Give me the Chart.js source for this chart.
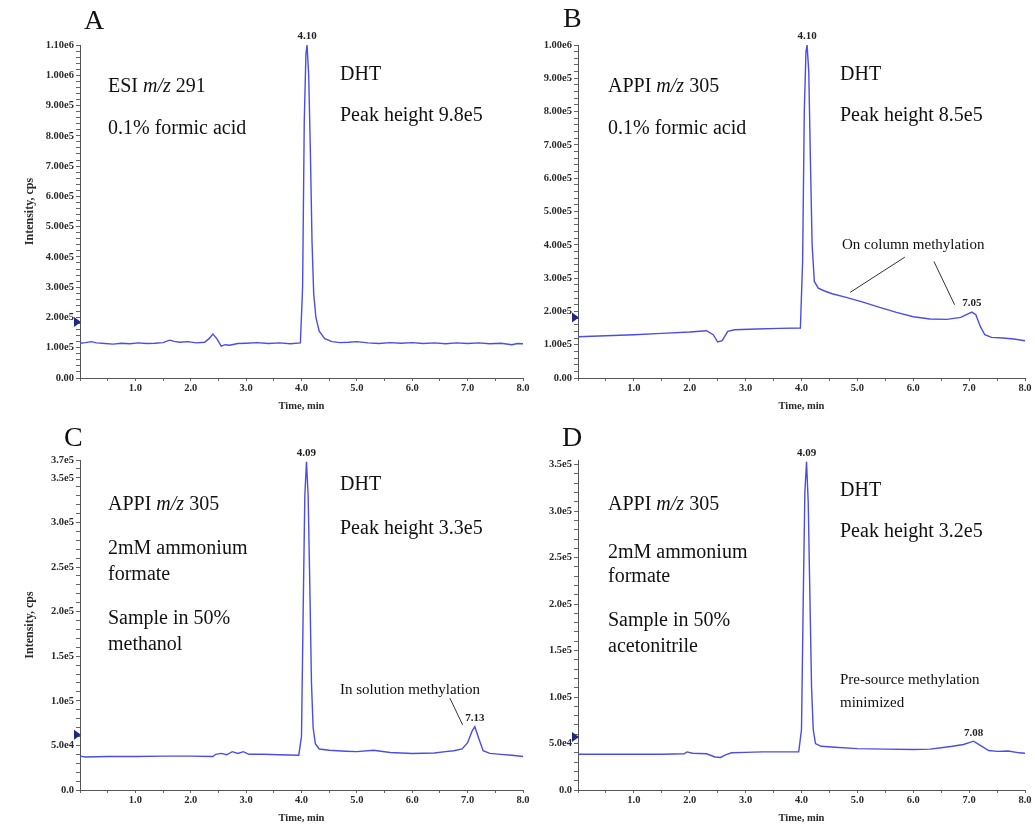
<!DOCTYPE html>
<html>
<head>
<meta charset="utf-8">
<script src="https://cdn.jsdelivr.net/npm/chart.js@4"></script>
<style>
body { margin: 0; background: #fff; }
#wrap { position: relative; width: 1035px; height: 825px; overflow: hidden; }
canvas { position: absolute; }
.t { position: absolute; font-family: "Liberation Serif", "Times New Roman", serif; font-size: 20px; line-height: 20px; color: #111; white-space: nowrap; }
.letter { font-size: 28px; line-height: 28px; }
.small { font-size: 15px; line-height: 16px; }
</style>
</head>
<body>
<div id="wrap">
  <canvas id="chartA" width="540" height="420" style="left:0;top:0"></canvas>
  <canvas id="chartB" width="540" height="420" style="left:495px;top:0"></canvas>
  <canvas id="chartC" width="540" height="410" style="left:0;top:415px"></canvas>
  <canvas id="chartD" width="540" height="410" style="left:495px;top:415px"></canvas>

  <div class="t letter" style="left:84px;top:6px">A</div>
  <div class="t letter" style="left:563px;top:4px">B</div>
  <div class="t letter" style="left:64px;top:423px">C</div>
  <div class="t letter" style="left:562px;top:423px">D</div>

  <div class="t" style="left:108px;top:75px">ESI <i>m/z</i> 291</div>
  <div class="t" style="left:108px;top:117px">0.1% formic acid</div>
  <div class="t" style="left:340px;top:63px">DHT</div>
  <div class="t" style="left:340px;top:104px">Peak height 9.8e5</div>

  <div class="t" style="left:608px;top:75px">APPI <i>m/z</i> 305</div>
  <div class="t" style="left:608px;top:117px">0.1% formic acid</div>
  <div class="t" style="left:840px;top:63px">DHT</div>
  <div class="t" style="left:840px;top:104px">Peak height 8.5e5</div>
  <div class="t small" style="left:842px;top:236px">On column methylation</div>

  <div class="t" style="left:108px;top:493px">APPI <i>m/z</i> 305</div>
  <div class="t" style="left:108px;top:537px">2mM ammonium</div>
  <div class="t" style="left:108px;top:563px">formate</div>
  <div class="t" style="left:108px;top:607px">Sample in 50%</div>
  <div class="t" style="left:108px;top:633px">methanol</div>
  <div class="t" style="left:340px;top:473px">DHT</div>
  <div class="t" style="left:340px;top:517px">Peak height 3.3e5</div>
  <div class="t small" style="left:340px;top:681px">In solution methylation</div>

  <div class="t" style="left:608px;top:493px">APPI <i>m/z</i> 305</div>
  <div class="t" style="left:608px;top:541px">2mM ammonium</div>
  <div class="t" style="left:608px;top:565px">formate</div>
  <div class="t" style="left:608px;top:609px">Sample in 50%</div>
  <div class="t" style="left:608px;top:635px">acetonitrile</div>
  <div class="t" style="left:840px;top:479px">DHT</div>
  <div class="t" style="left:840px;top:520px">Peak height 3.2e5</div>
  <div class="t small" style="left:840px;top:671px">Pre-source methylation</div>
  <div class="t small" style="left:840px;top:694px">minimized</div>
</div>

<script>
// Panel A - ESI m/z 291, 0.1% formic acid
const timeA = [0, 0.1, 0.2, 0.3, 0.45, 0.6, 0.75, 0.9, 1.05, 1.2, 1.35, 1.5, 1.62, 1.7, 1.8,
  1.95, 2.1, 2.25, 2.33, 2.4, 2.47, 2.55, 2.62, 2.7, 2.85, 3.0, 3.2, 3.4, 3.6, 3.8,
  3.98, 4.02, 4.05, 4.08, 4.10, 4.13, 4.16, 4.19, 4.22, 4.26, 4.32, 4.42, 4.55, 4.7, 4.85, 5.0,
  5.2, 5.4, 5.6, 5.8, 6.0, 6.2, 6.4, 6.6, 6.8, 7.0, 7.2, 7.4, 7.6, 7.8, 7.9, 8.0];
const intensityA = [1.15e5, 1.17e5, 1.20e5, 1.16e5, 1.14e5, 1.12e5, 1.15e5, 1.13e5, 1.16e5, 1.14e5,
  1.15e5, 1.17e5, 1.25e5, 1.21e5, 1.18e5, 1.20e5, 1.16e5, 1.18e5, 1.30e5, 1.45e5,
  1.30e5, 1.05e5, 1.10e5, 1.08e5, 1.14e5, 1.15e5, 1.17e5, 1.14e5, 1.16e5, 1.13e5,
  1.16e5, 3.0e5, 8.5e5, 1.07e6, 1.10e6, 1.0e6, 7.5e5, 4.5e5, 2.8e5, 2.0e5,
  1.55e5, 1.3e5, 1.2e5, 1.17e5, 1.18e5, 1.20e5, 1.16e5, 1.14e5, 1.17e5, 1.15e5,
  1.17e5, 1.14e5, 1.16e5, 1.13e5, 1.16e5, 1.14e5, 1.16e5, 1.13e5, 1.15e5, 1.10e5,
  1.14e5, 1.13e5];

// Panel B - APPI m/z 305, 0.1% formic acid
const timeB = [0, 0.5, 1.0, 1.5, 2.0, 2.3, 2.42, 2.5, 2.58, 2.68, 2.8, 3.2, 3.6, 3.98,
  4.02, 4.05, 4.08, 4.10, 4.13, 4.16, 4.19, 4.23, 4.3, 4.4, 4.55, 4.8, 5.1, 5.4, 5.7, 6.0,
  6.3, 6.6, 6.85, 6.95, 7.05, 7.12, 7.2, 7.28, 7.4, 7.6, 7.8, 8.0];
const intensityB = [1.24e5, 1.27e5, 1.30e5, 1.34e5, 1.38e5, 1.42e5, 1.30e5, 1.08e5, 1.12e5, 1.40e5,
  1.45e5, 1.47e5, 1.49e5, 1.50e5, 3.5e5, 8.0e5, 9.8e5, 1.0e6, 9.2e5, 6.5e5,
  4.0e5, 2.9e5, 2.7e5, 2.62e5, 2.53e5, 2.42e5, 2.28e5, 2.12e5, 1.97e5, 1.84e5,
  1.77e5, 1.76e5, 1.82e5, 1.90e5, 1.98e5, 1.90e5, 1.55e5, 1.30e5, 1.22e5, 1.20e5,
  1.17e5, 1.12e5];

// Panel C - APPI m/z 305, ammonium formate, sample in methanol
const timeC = [0, 0.1, 0.5, 1.0, 1.5, 2.0, 2.4, 2.45, 2.55, 2.65, 2.75, 2.85, 2.95, 3.05, 3.3,
  3.6, 3.95, 4.0, 4.03, 4.06, 4.09, 4.12, 4.15, 4.18, 4.21, 4.25, 4.32, 4.5, 4.8, 5.0, 5.3,
  5.6, 6.0, 6.4, 6.6, 6.75, 6.9, 7.0, 7.08, 7.13, 7.2, 7.28, 7.4, 7.6, 7.8, 8.0];
const intensityC = [3.8e4, 3.7e4, 3.75e4, 3.75e4, 3.8e4, 3.8e4, 3.75e4, 4.0e4, 4.1e4, 3.95e4,
  4.3e4, 4.1e4, 4.3e4, 4.0e4, 4.0e4, 3.95e4, 3.9e4, 6.0e4, 2.0e5, 3.3e5,
  3.68e5, 3.3e5, 2.3e5, 1.2e5, 7.0e4, 5.2e4, 4.6e4, 4.45e4, 4.35e4, 4.3e4,
  4.45e4, 4.2e4, 4.1e4, 4.15e4, 4.3e4, 4.4e4, 4.6e4, 5.3e4, 6.6e4, 7.1e4,
  5.8e4, 4.4e4, 4.1e4, 4.0e4, 3.9e4, 3.75e4];

// Panel D - APPI m/z 305, ammonium formate, sample in acetonitrile
const timeD = [0, 0.5, 1.0, 1.5, 1.9, 1.95, 2.05, 2.3, 2.45, 2.55, 2.65, 2.75, 3.0, 3.3, 3.6,
  3.95, 4.0, 4.03, 4.06, 4.09, 4.12, 4.15, 4.18, 4.21, 4.25, 4.35, 4.6, 5.0, 5.5, 6.0, 6.3,
  6.5, 6.7, 6.9, 7.08, 7.2, 7.35, 7.5, 7.7, 7.9, 8.0];
const intensityD = [3.85e4, 3.85e4, 3.85e4, 3.85e4, 3.9e4, 4.1e4, 3.95e4, 3.9e4, 3.55e4, 3.5e4,
  3.8e4, 4.0e4, 4.05e4, 4.1e4, 4.1e4, 4.1e4, 6.5e4, 2.0e5, 3.2e5, 3.53e5,
  3.1e5, 2.1e5, 1.1e5, 6.5e4, 5.0e4, 4.7e4, 4.6e4, 4.45e4, 4.4e4, 4.35e4,
  4.4e4, 4.55e4, 4.7e4, 4.9e4, 5.25e4, 4.8e4, 4.25e4, 4.15e4, 4.2e4, 4.0e4, 3.95e4];

const serif = '"Liberation Serif", "Times New Roman", serif';
const lineColor = '#4b4de8';

// etiquettes de pics, fleche de seuil et traits de renvoi
const extrasPlugin = {
  id: 'extras',
  afterDatasetsDraw(chart, args, o) {
    const ctx = chart.ctx, xs = chart.scales.x, ys = chart.scales.y;
    const pts = chart.data.datasets[0].data;
    ctx.save();
    ctx.font = 'bold 11px ' + serif;
    ctx.fillStyle = '#222';
    ctx.textAlign = 'center';
    ctx.textBaseline = 'bottom';
    (o.peaks || []).forEach(p => {
      const pt = pts.find(d => Math.abs(d.x - p.t) < 1e-6);
      ctx.fillText(p.text, xs.getPixelForValue(p.t), ys.getPixelForValue(pt.y) - 3);
    });

    ctx.strokeStyle = '#333';
    ctx.lineWidth = 1;
    (o.leaders || []).forEach(l => {
      ctx.beginPath();
      ctx.moveTo(xs.getPixelForValue(l[0]), ys.getPixelForValue(l[1]));
      ctx.lineTo(xs.getPixelForValue(l[2]), ys.getPixelForValue(l[3]));
      ctx.stroke();
    });

    if (o.marker != null) {
      const y = ys.getPixelForValue(o.marker), x = chart.chartArea.left;
      ctx.fillStyle = '#1d2a80';
      ctx.beginPath();
      ctx.moveTo(x - 6, y - 5);
      ctx.lineTo(x + 1, y);
      ctx.lineTo(x - 6, y + 5);
      ctx.closePath();
      ctx.fill();
    }
    ctx.restore();
  }
};

function yLabel(digits, major, labelMax, max) {
  return function (v) {
    if (v === 0) return (0).toFixed(digits);
    const r = v / major;
    if (Math.abs(r - Math.round(r)) < 1e-6 || (labelMax && Math.abs(v - max) < 1)) {
      return v.toExponential(digits).replace('e+', 'e');
    }
    return '';
  };
}

function makeChart(id, time, intensity, cfg) {
  new Chart(document.getElementById(id), {
    type: 'line',
    data: {
      datasets: [{
        data: time.map((t, i) => ({ x: t, y: intensity[i] })),
        borderColor: lineColor,
        borderWidth: 1.4,
        pointRadius: 0,
        tension: 0,
        fill: false
      }]
    },
    options: {
      responsive: false,
      animation: false,
      devicePixelRatio: 1,
      layout: { padding: { top: 45, right: cfg.right, left: 0, bottom: 0 } },
      plugins: {
        legend: { display: false },
        tooltip: { enabled: false },
        extras: cfg.extras
      },
      scales: {
        x: {
          type: 'linear',
          min: 0, max: 8,
          border: { color: '#555' },
          grid: { drawOnChartArea: false, tickLength: 3, tickColor: '#666' },
          ticks: {
            stepSize: 0.5, autoSkip: false, maxRotation: 0, padding: 1,
            color: '#2a2a2a', font: { family: serif, size: 10.5, weight: 'bold' },
            callback: v => (Number.isInteger(v) && v > 0) ? v.toFixed(1) : ''
          },
          title: {
            display: true, text: 'Time, min', color: '#2a2a2a', padding: { top: 0, bottom: cfg.titlePad },
            font: { family: serif, size: 10.5, weight: 'bold' }
          },
          afterFit: s => { s.height = cfg.xHeight; }
        },
        y: {
          min: 0, max: cfg.max,
          border: { color: '#555' },
          grid: { drawOnChartArea: false, tickLength: 4, tickColor: '#666' },
          ticks: {
            autoSkip: false, padding: 2,
            color: '#2a2a2a', font: { family: serif, size: 10.5, weight: 'bold' },
            callback: yLabel(cfg.digits, cfg.major, cfg.labelMax, cfg.max)
          },
          // pas fixe: Chart.js recalcule le pas quand max n'est pas un multiple
          afterBuildTicks: s => {
            const t = [];
            for (let i = 0; i * cfg.step <= cfg.max + 1; i++) t.push({ value: i * cfg.step });
            s.ticks = t;
          },
          title: {
            display: cfg.yTitle, text: 'Intensity, cps', color: '#2a2a2a', padding: { top: 23, bottom: 0 },
            font: { family: serif, size: 12, weight: 'bold' }
          },
          afterFit: s => { s.width = cfg.yWidth; }
        }
      }
    },
    plugins: [extrasPlugin]
  });
}

makeChart('chartA', timeA, intensityA, {
  max: 1.1e6, step: 2e4, major: 1e5, digits: 2, labelMax: false,
  yWidth: 80, xHeight: 42, titlePad: 7, right: 17, yTitle: true,
  extras: { peaks: [{ t: 4.10, text: '4.10' }], marker: 1.85e5 }
});

makeChart('chartB', timeB, intensityB, {
  max: 1.0e6, step: 2e4, major: 1e5, digits: 2, labelMax: false,
  yWidth: 83, xHeight: 42, titlePad: 7, right: 10, yTitle: false,
  extras: {
    peaks: [{ t: 4.10, text: '4.10' }, { t: 7.05, text: '7.05' }],
    marker: 1.82e5,
    leaders: [[4.87, 2.57e5, 5.85, 3.63e5], [6.37, 3.5e5, 6.74, 2.2e5]]
  }
});

makeChart('chartC', timeC, intensityC, {
  max: 3.7e5, step: 1e4, major: 5e4, digits: 1, labelMax: true,
  yWidth: 80, xHeight: 35, titlePad: 0, right: 17, yTitle: true,
  extras: {
    peaks: [{ t: 4.09, text: '4.09' }, { t: 7.13, text: '7.13' }],
    marker: 6.2e4,
    leaders: [[6.68, 1.03e5, 6.91, 7.3e4]]
  }
});

makeChart('chartD', timeD, intensityD, {
  max: 3.55e5, step: 1e4, major: 5e4, digits: 1, labelMax: false,
  yWidth: 83, xHeight: 35, titlePad: 0, right: 10, yTitle: false,
  extras: { peaks: [{ t: 4.09, text: '4.09' }, { t: 7.08, text: '7.08' }], marker: 5.7e4 }
});
</script>
</body>
</html>
